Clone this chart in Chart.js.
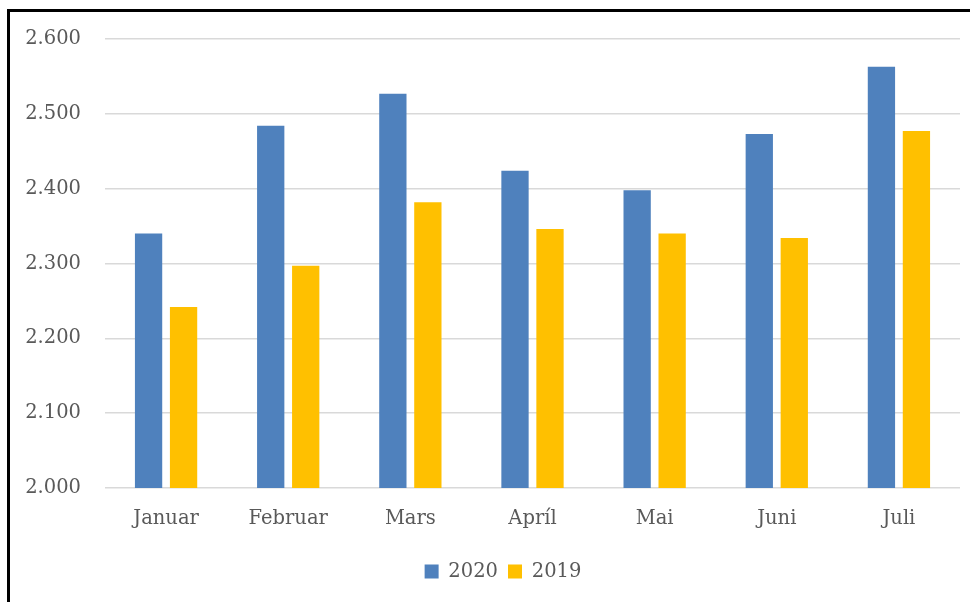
<!DOCTYPE html>
<html>
<head>
<meta charset="utf-8">
<script src="https://cdn.jsdelivr.net/npm/chart.js@4.4.1/dist/chart.umd.min.js"></script>
<style>
  html, body { margin: 0; padding: 0; background: #fff; }
  #wrap { position: relative; width: 978px; height: 602px; overflow: hidden; }
  #frame { position: absolute; left: 7px; top: 9px; width: 963px; height: 600px;
           border-top: 3px solid #000; border-left: 3px solid #000; box-sizing: border-box; }
  canvas { position: absolute; left: 0; top: 0; }
</style>
</head>
<body>
<div id="wrap">
  <div id="frame"></div>
  <canvas id="c" width="978" height="602"></canvas>
</div>
<script>
const categories = ["Januar", "Februar", "Mars", "Apríl", "Mai", "Juni", "Juli"];
const seriesNames = ["2020", "2019"];
const values2020 = [2340, 2484, 2527, 2424, 2398, 2473, 2563];
const values2019 = [2242, 2297, 2382, 2346, 2340, 2334, 2477];
const yTicks = [2000, 2100, 2200, 2300, 2400, 2500, 2600];

const FONT = "'DejaVu Serif', serif";
const TXT = "#595959";

function fmt(v) {
  const s = String(Math.round(v));
  return s.replace(/\B(?=(\d{3})+(?!\d))/g, ".");
}

const legendShift = {
  id: "legendShift",
  afterLayout(chart) {
    if (chart.legend) { chart.legend.left += 23; chart.legend.right += 23; }
  }
};

new Chart(document.getElementById("c"), {
  type: "bar",
  data: {
    labels: categories,
    datasets: [
      { label: seriesNames[0], data: values2020, backgroundColor: "#4F81BD",
        barPercentage: 0.78, categoryPercentage: 0.573 },
      { label: seriesNames[1], data: values2019, backgroundColor: "#FFC000",
        barPercentage: 0.78, categoryPercentage: 0.573 }
    ]
  },
  plugins: [legendShift],
  options: {
    responsive: false,
    animation: false,
    devicePixelRatio: 1,
    layout: { padding: { top: 39, right: 18, left: 0, bottom: 10.75 } },
    plugins: {
      title: { display: false },
      tooltip: { enabled: false },
      legend: {
        position: "bottom",
        labels: {
          boxWidth: 14, boxHeight: 14, padding: 10,
          color: TXT, font: { family: FONT, size: 19.5 }
        }
      }
    },
    scales: {
      x: {
        grid: { display: false, drawTicks: false },
        border: { display: false },
        ticks: { color: TXT, font: { family: FONT, size: 19.5 }, padding: 19, maxRotation: 0 },
        afterFit: (s) => { s.height = 63.75; }
      },
      y: {
        min: yTicks[0], max: yTicks[yTicks.length - 1],
        afterBuildTicks: (s) => { s.ticks = yTicks.map(v => ({ value: v })); },
        grid: { color: "#D9D9D9", lineWidth: 1.5, drawTicks: false },
        border: { display: false },
        ticks: { color: TXT, font: { family: FONT, size: 19.5 }, padding: 24,
                 callback: (v) => fmt(v) },
        afterFit: (s) => { s.width = 105; }
      }
    }
  }
});
</script>
</body>
</html>
